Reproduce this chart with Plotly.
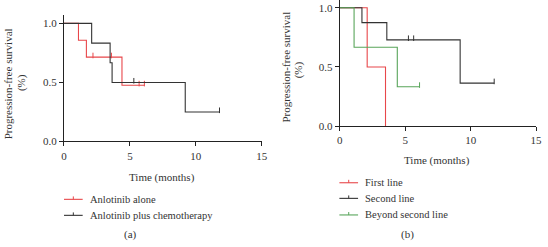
import plotly.graph_objects as go

# ---------------- data ----------------
# Panel (a)
alone_t = [0, 1.1, 1.7, 4.4, 6.1]
alone_s = [1.0, 0.857, 0.714, 0.476, 0.476]
alone_cens_t = [2.2, 3.6, 5.7, 6.1]
alone_cens_s = [0.714, 0.714, 0.476, 0.476]

chemo_t = [0, 2.1, 3.5, 3.65, 9.2, 11.8]
chemo_s = [1.0, 0.833, 0.667, 0.5, 0.25, 0.25]
chemo_cens_t = [5.3, 11.8]
chemo_cens_s = [0.5, 0.25]

# Panel (b)
first_t = [0, 2.1, 3.5]
first_s = [1.0, 0.5, 0.0]
first_cens_t = []
first_cens_s = []

second_t = [0, 1.7, 3.6, 9.2, 11.8]
second_s = [1.0, 0.875, 0.729, 0.364, 0.364]
second_cens_t = [5.25, 5.65, 11.8]
second_cens_s = [0.729, 0.729, 0.364]

beyond_t = [0, 1.1, 4.4, 6.1]
beyond_s = [1.0, 0.667, 0.333, 0.333]
beyond_cens_t = [6.1]
beyond_cens_s = [0.333]

x_ticks = [0, 5, 10, 15]
y_ticks = [0.0, 0.5, 1.0]
y_ticklabels = ["0.0", "0.5", "1.0"]

names_a = ["Anlotinib alone", "Anlotinib plus chemotherapy"]
names_b = ["First line", "Second line", "Beyond second line"]
x_title = "Time (months)"
y_title_1 = "Progression-free survival"
y_title_2 = "(%)"

# ---------------- style ----------------
W, H = 548, 247
RED = "#e8474a"
BLACK = "#333333"
GREEN = "#58a55a"
FAMILY = "Liberation Serif, Times New Roman, serif"
FONT = dict(family=FAMILY, size=11, color="#333")
LFONT = dict(family=FAMILY, size=10.5, color="#333")


def px(x):
    return x / W


def py(y):
    return 1 - y / H


fig = go.Figure()


def add_km(t, s, ct, cs, color, xa, ya):
    fig.add_trace(go.Scatter(x=t, y=s, mode="lines", line=dict(color=color, width=1.1, shape="hv"),
                             xaxis=xa, yaxis=ya, showlegend=False, hoverinfo="skip"))
    if ct:
        fig.add_trace(go.Scatter(x=ct, y=[v + 0.014 for v in cs], mode="markers",
                                 marker=dict(symbol="line-ns", size=4, line=dict(color=color, width=1)),
                                 xaxis=xa, yaxis=ya, showlegend=False, hoverinfo="skip"))


add_km(alone_t, alone_s, alone_cens_t, alone_cens_s, RED, "x", "y")
add_km(chemo_t, chemo_s, chemo_cens_t, chemo_cens_s, BLACK, "x", "y")
add_km(first_t, first_s, first_cens_t, first_cens_s, RED, "x2", "y2")
add_km(second_t, second_s, second_cens_t, second_cens_s, BLACK, "x2", "y2")
add_km(beyond_t, beyond_s, beyond_cens_t, beyond_cens_s, GREEN, "x2", "y2")

axis_common = dict(showgrid=False, zeroline=False, showline=True, linecolor="#222", linewidth=1,
                   ticks="outside", ticklen=4, tickwidth=1, tickcolor="#222", tickfont=FONT)

fig.update_layout(
    width=W, height=H,
    margin=dict(l=0, r=0, t=0, b=0),
    paper_bgcolor="white", plot_bgcolor="white",
    font=FONT,
    showlegend=False,
    xaxis=dict(domain=[px(62), px(263)], range=[0, 15], tickvals=x_ticks, anchor="y", **axis_common),
    yaxis=dict(domain=[py(145), py(15)], range=[0, 1.074], tickvals=y_ticks, ticktext=y_ticklabels,
               anchor="x", **axis_common),
    xaxis2=dict(domain=[px(342.3), px(542)], range=[0, 15], tickvals=x_ticks, anchor="y2", **axis_common),
    yaxis2=dict(domain=[py(129.3), 1.0], range=[0, 1.066], tickvals=y_ticks, ticktext=y_ticklabels,
                anchor="x2", **axis_common),
)

ann = []
shapes = []


def text(x, y, s, angle=0, xanchor="center", font=FONT):
    ann.append(dict(x=px(x), y=py(y), xref="paper", yref="paper", text=s, textangle=angle,
                    showarrow=False, xanchor=xanchor, yanchor="middle", font=font))


# axis titles
text(5.5, 86, y_title_1, -90)
text(19.5, 85, y_title_2, -90)
text(287.5, 68.5, y_title_1, -90)
text(300, 72, y_title_2, -90)
text(161.7, 181.7, x_title)
text(441.7, 164, x_title)
text(130, 240.5, "(a)")
text(411.7, 240.5, "(b)")


def legend_item(name, color, x0, x1, xt, yrow):
    shapes.append(dict(type="line", xref="paper", yref="paper", x0=px(x0), x1=px(x1),
                       y0=py(yrow), y1=py(yrow), line=dict(color=color, width=1.1)))
    xm = (x0 + x1) / 2
    shapes.append(dict(type="line", xref="paper", yref="paper", x0=px(xm), x1=px(xm),
                       y0=py(yrow), y1=py(yrow - 3), line=dict(color=color, width=1)))
    text(xt, yrow, name, 0, "left", LFONT)


for name, color, yr in zip(names_a, [RED, BLACK], [204.3, 220.7]):
    legend_item(name, color, 62, 81, 86.5, yr)
for name, color, yr in zip(names_b, [RED, BLACK, GREEN], [187.3, 203.3, 220.3]):
    legend_item(name, color, 342, 361, 366, yr)

fig.update_layout(annotations=ann, shapes=shapes)
fig.write_html("out.html", config={"displayModeBar": False, "staticPlot": True},
               post_script="document.body.style.margin='0';document.body.style.padding='0';"
                           "document.body.style.overflow='hidden';")
